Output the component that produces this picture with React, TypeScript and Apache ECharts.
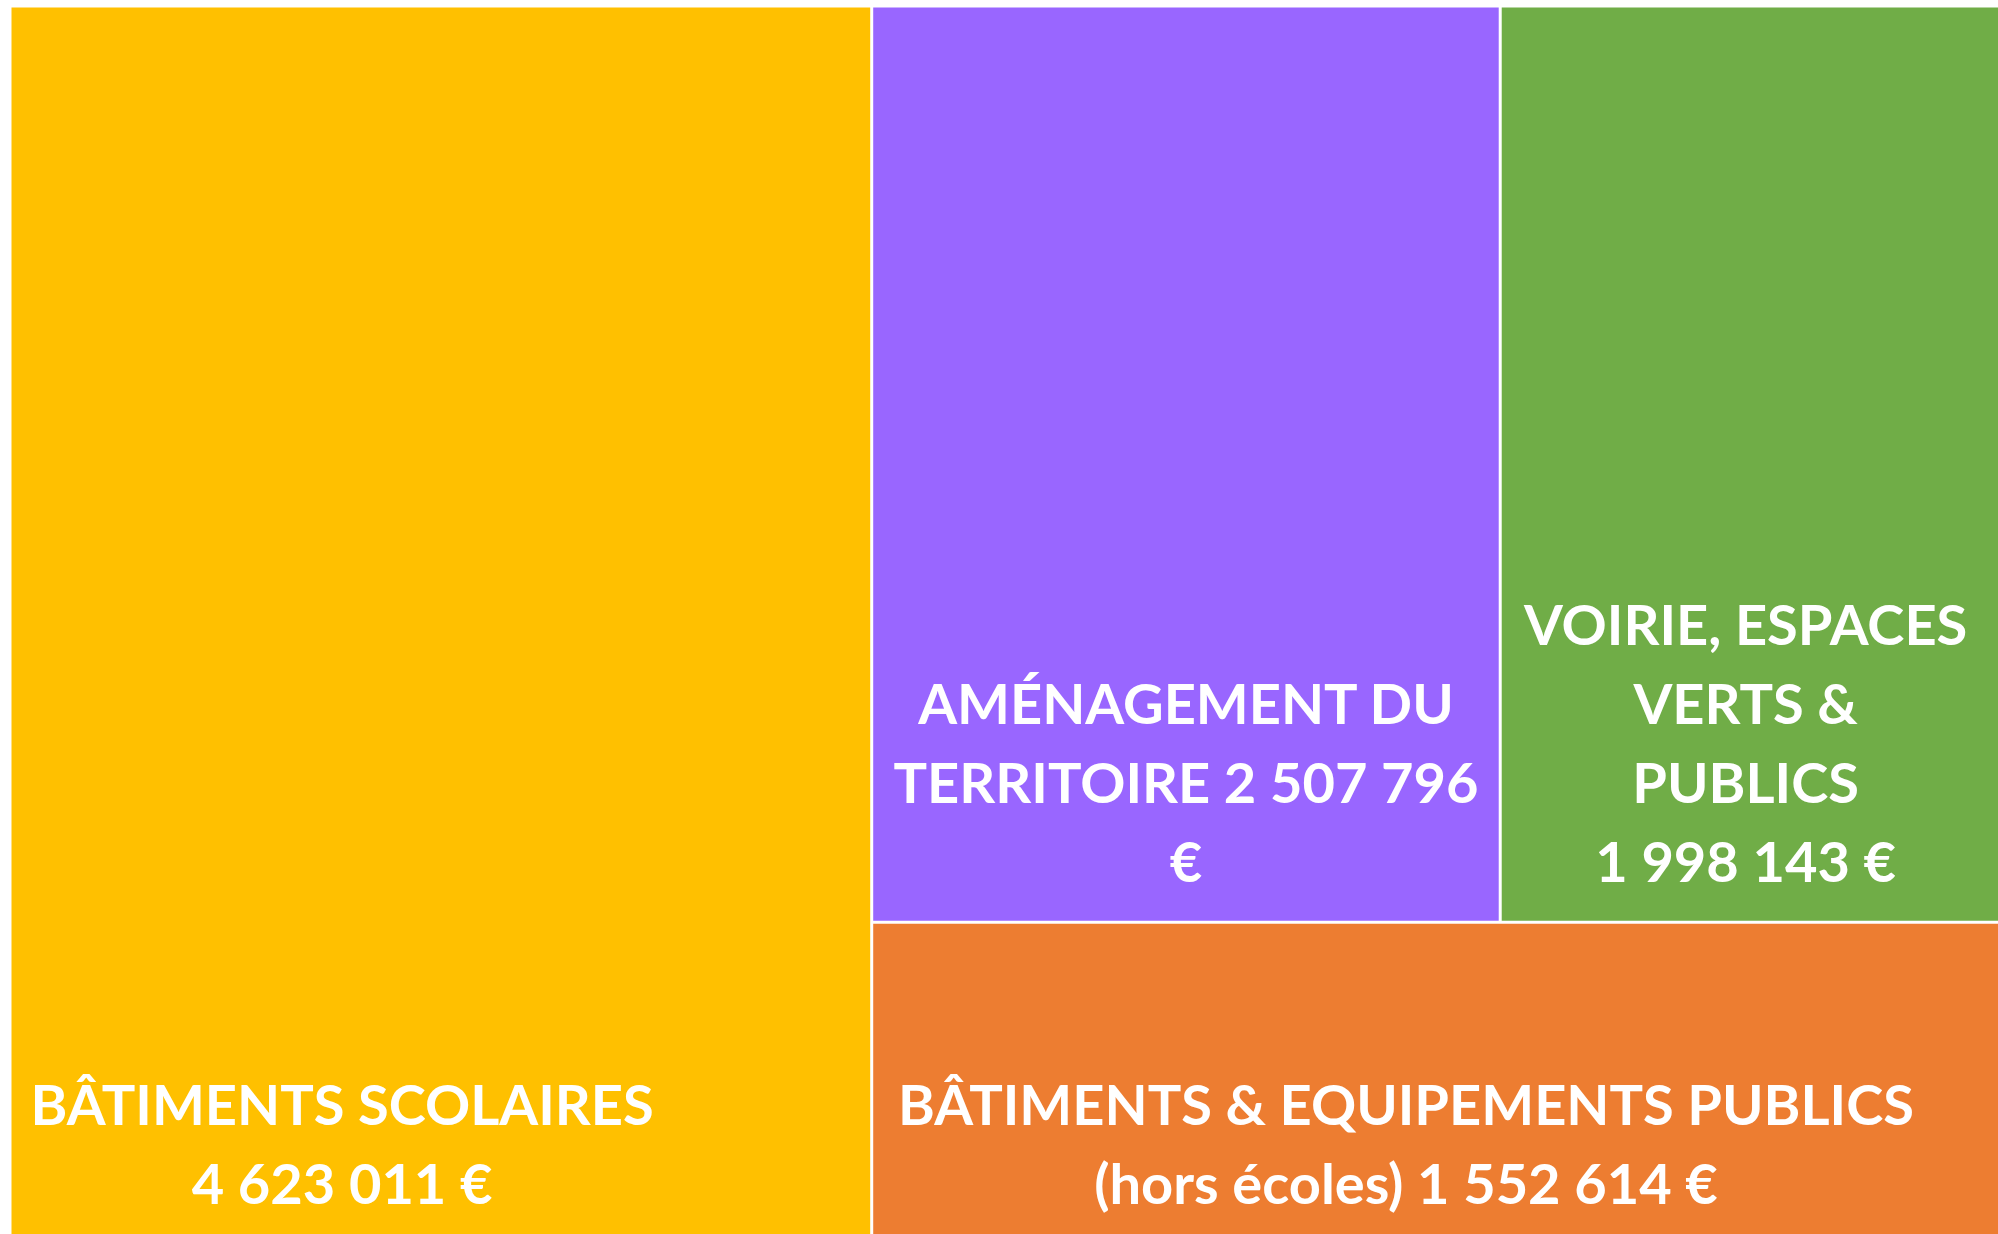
import React, { useEffect, useRef } from "react";
import * as echarts from "echarts";

const categories = [
  "BÂTIMENTS SCOLAIRES",
  "AMÉNAGEMENT DU TERRITOIRE",
  "VOIRIE, ESPACES VERTS & PUBLICS",
  "BÂTIMENTS & EQUIPEMENTS PUBLICS (hors écoles)",
];
const values = [4623011, 2507796, 1998143, 1552614];
const labelLines = [
  ["BÂTIMENTS SCOLAIRES", "{v}"],
  ["AMÉNAGEMENT DU", "TERRITOIRE {n}", "€"],
  ["VOIRIE, ESPACES", "VERTS &", "PUBLICS", "{v}"],
  ["BÂTIMENTS & EQUIPEMENTS PUBLICS", "(hors écoles) {v}"],
];
const colors = ["#FFC000", "#9966FF", "#70AD47", "#ED7D31"];
const labelPos: [string, string][] = [
  ["38.5%", "98.8%"],
  ["50%", "97.7%"],
  ["49%", "97.7%"],
  ["47.3%", "95.3%"],
];

function fmt(n: number): string {
  return String(n).replace(/\B(?=(\d{3})+(?!\d))/g, " ");
}

export default function App() {
  const ref = useRef<HTMLDivElement>(null);
  useEffect(() => {
    if (!ref.current) return;
    const chart = echarts.init(ref.current, null, { renderer: "svg" });
    const data = categories.map((name, i) => ({
      name,
      value: values[i],
      itemStyle: { color: colors[i] },
      label: {
        position: labelPos[i],
        align: "center",
        verticalAlign: "bottom",
        formatter: () =>
          labelLines[i]
            .map((l) => l.replace("{v}", fmt(values[i]) + " €").replace("{n}", fmt(values[i])))
            .join("\n"),
      },
    }));
    chart.setOption({
      animation: false,
      series: [
        {
          type: "treemap",
          left: 11.5,
          top: 7.5,
          width: 1988,
          height: 1229,
          squareRatio: 1,
          roam: false,
          nodeClick: false,
          breadcrumb: { show: false },
          sort: "desc",
          label: {
            show: true,
            color: "#ffffff",
            fontFamily: "Lato",
            fontWeight: "bold",
            fontSize: 56,
            lineHeight: 79,
            overflow: "none",
            padding: 0,
          },
          levels: [
            { itemStyle: { borderWidth: 0, gapWidth: 3, borderColor: "#ffffff" } },
            { itemStyle: { borderWidth: 0, gapWidth: 0 } },
          ],
          data,
        },
      ],
    });
    return () => chart.dispose();
  }, []);
  return (
    <div
      ref={ref}
      style={{ position: "fixed", left: 0, top: 0, width: 1998, height: 1234, background: "#fff" }}
    />
  );
}
